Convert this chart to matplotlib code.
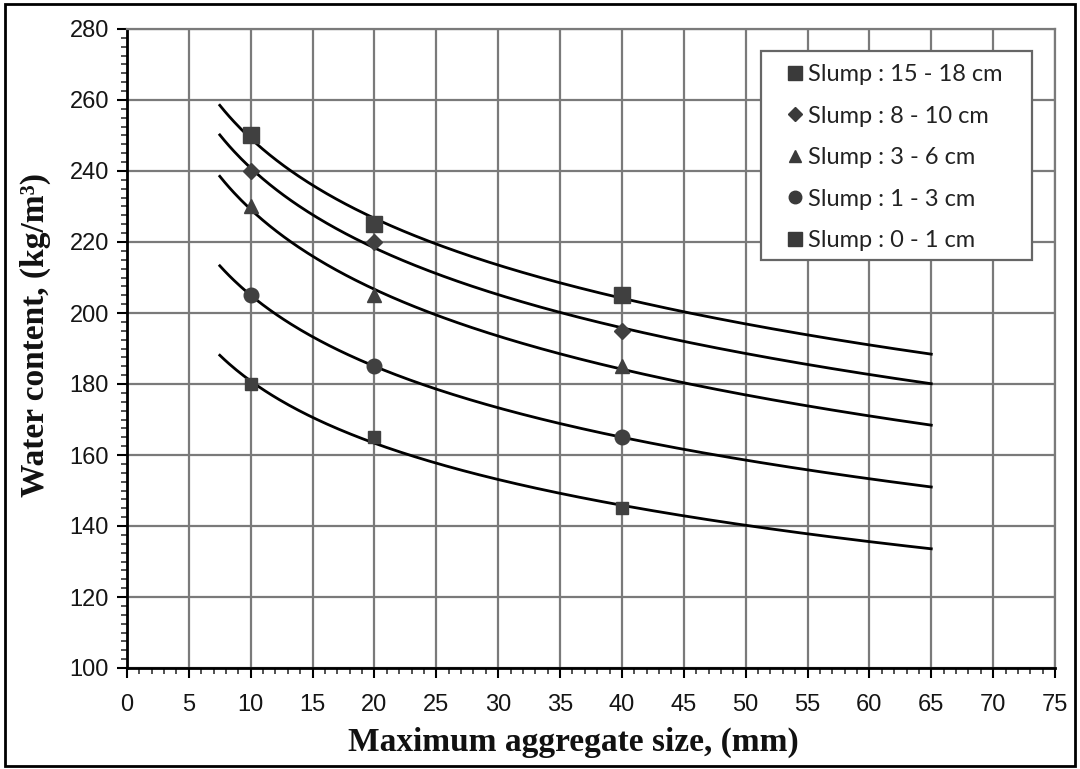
import numpy as np
import matplotlib
matplotlib.use("Agg")
import matplotlib.pyplot as plt
from matplotlib.ticker import MultipleLocator
from matplotlib.patches import Rectangle

# Data
agg_size = [10, 20, 40]
series_labels = ["Slump : 15 - 18 cm", "Slump : 8 - 10 cm", "Slump : 3 - 6 cm",
                 "Slump : 1 - 3 cm", "Slump : 0 - 1 cm"]
water_15_18 = [250, 225, 205]
water_8_10 = [240, 220, 195]
water_3_6 = [230, 205, 185]
water_1_3 = [205, 185, 165]
water_0_1 = [180, 165, 145]
x_ticks = list(range(0, 80, 5))
y_ticks = list(range(100, 300, 20))
fit_range = (7.5, 65)

series = [water_15_18, water_8_10, water_3_6, water_1_3, water_0_1]
markers = ["s", "D", "^", "o", "s"]
msizes = [11, 8, 9.5, 10.5, 8.5]
mcol = "#404040"

W, H = 1080, 769
L, R, T, B = 127, 1055, 29, 668
fig = plt.figure(figsize=(W/100, H/100), dpi=100)
ax = fig.add_axes([L/W, 1-B/H, (R-L)/W, (B-T)/H])

def axc(px, py):
    return ((px-L)/(R-L), (B-py)/(B-T))

xs = np.linspace(fit_range[0], fit_range[1], 300)
for vals, mk, ms, lab in zip(series, markers, msizes, series_labels):
    b, a = np.polyfit(np.log(agg_size), vals, 1)
    ax.plot(xs, a + b*np.log(xs), color="black", lw=2.0, zorder=3)
    ax.plot(agg_size, vals, linestyle="none", marker=mk, ms=ms,
            color=mcol, mec=mcol, zorder=4, label=lab)

ax.set_xlim(0, 75)
ax.set_ylim(100, 280)
ax.set_xticks(x_ticks)
ax.set_yticks(y_ticks)
ax.xaxis.set_minor_locator(MultipleLocator(1))
ax.yaxis.set_minor_locator(MultipleLocator(2.5))
ax.grid(True, which="major", color="#7a7a7a", lw=1.6, zorder=1)
ax.set_axisbelow(True)

for s in ["top", "right"]:
    ax.spines[s].set_color("#7a7a7a")
    ax.spines[s].set_linewidth(1.6)
for s in ["left", "bottom"]:
    ax.spines[s].set_color("black")
    ax.spines[s].set_linewidth(2.0)

ax.tick_params(which="major", direction="out", length=7, width=1.5, color="black",
               labelsize=17, labelcolor="#151515")
ax.tick_params(axis="y", which="major", pad=6)
ax.tick_params(axis="x", which="major", pad=12)
ax.tick_params(which="minor", direction="out", length=4, width=1.2, color="#333333")
for lab in ax.get_xticklabels() + ax.get_yticklabels():
    lab.set_family("Liberation Sans")

ax.set_xlabel("Maximum aggregate size, (mm)", family="Liberation Serif",
              fontweight="bold", fontsize=24, color="#111111")
ax.xaxis.set_label_coords(*axc(573, 742))
ax.xaxis.label.set_va("center")
ax.set_ylabel("Water content, (kg/m³)", family="Liberation Serif",
              fontweight="bold", fontsize=24, color="#111111")
ax.yaxis.set_label_coords(*axc(51, 335))

# legend frame drawn separately
fx0, fy0 = axc(761, 260)
fx1, fy1 = axc(1032, 51)
ax.add_patch(Rectangle((fx0, fy0), fx1-fx0, fy1-fy0, transform=ax.transAxes,
                       facecolor="white", edgecolor="#666666", lw=1.6, zorder=5))

leg_handles = []
leg_ms = {"s": 10, "D": 7, "^": 9, "o": 9}
for mk in markers:
    leg_handles.append(plt.Line2D([], [], linestyle="none", marker=mk,
                                  ms=leg_ms[mk], color="#3a3a3a"))
leg = ax.legend(leg_handles, series_labels, loc="upper left",
                bbox_to_anchor=axc(783, 64), frameon=False,
                prop={"family": "Lato", "size": 17},
                handlelength=1.0, handletextpad=0.05, labelspacing=0.87,
                borderpad=0, borderaxespad=0)
leg.set_zorder(6)
for t in leg.get_texts():
    t.set_color("#222222")

fig.patches.append(Rectangle((5/W, 3/H), 1070/W, 762/H, fill=False,
                             edgecolor="black", lw=2.0, transform=fig.transFigure))

fig.savefig("out.png", dpi=100)
